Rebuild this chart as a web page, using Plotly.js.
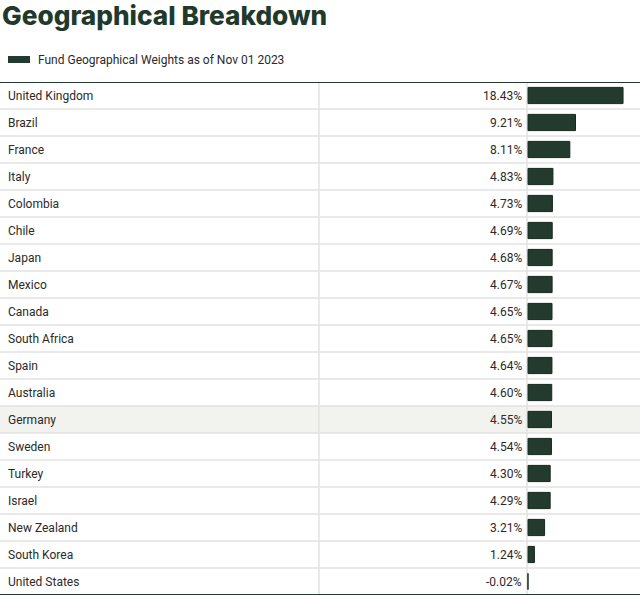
<!DOCTYPE html>
<html>
<head>
<meta charset="utf-8">
<script src="https://cdn.plot.ly/plotly-3.0.1.min.js"></script>
<style>html,body{margin:0;padding:0;background:#fff;}#chart{width:640px;height:599px;}</style>
</head>
<body>
<div id="chart"></div>
<script>
const countries = ["United Kingdom","Brazil","France","Italy","Colombia","Chile","Japan","Mexico","Canada","South Africa","Spain","Australia","Germany","Sweden","Turkey","Israel","New Zealand","South Korea","United States"];
const weights = [18.43,9.21,8.11,4.83,4.73,4.69,4.68,4.67,4.65,4.65,4.64,4.60,4.55,4.54,4.30,4.29,3.21,1.24,-0.02];
const valueLabels = ["18.43%","9.21%","8.11%","4.83%","4.73%","4.69%","4.68%","4.67%","4.65%","4.65%","4.64%","4.60%","4.55%","4.54%","4.30%","4.29%","3.21%","1.24%","-0.02%"];
const seriesName = "Fund Geographical Weights as of Nov 01 2023";
const highlighted = "Germany";

const W = 640, H = 599;
const dark = "#233a2f";
const font = "Roboto, Inter, sans-serif";
const n = countries.length;
const idx = countries.map((c,i)=>i);

const shapes = [];
const hi = countries.indexOf(highlighted);
shapes.push({type:"rect", xref:"paper", yref:"y", x0:0, x1:1, y0:hi-0.5, y1:hi+0.5, fillcolor:"#f2f2ee", line:{width:0}, layer:"below"});
for (let i=0;i<n-1;i++){
  shapes.push({type:"line", xref:"paper", yref:"y", x0:0, x1:1, y0:i+0.5, y1:i+0.5, line:{color:"#e2e2e2", width:1.5}, layer:"below"});
}
[319/W, 527/W].forEach(x=>{
  shapes.push({type:"line", xref:"paper", yref:"y", x0:x, x1:x, y0:-0.5, y1:n-0.5, line:{color:"#e2e2e2", width:1.5}, layer:"below"});
});
shapes.push({type:"line", xref:"paper", yref:"y", x0:0, x1:1, y0:-0.5, y1:-0.5, line:{color:dark, width:2}});
shapes.push({type:"line", xref:"paper", yref:"y", x0:0, x1:1, y0:n-0.5, y1:n-0.5, line:{color:dark, width:2}});
shapes.push({type:"rect", xref:"paper", yref:"paper", x0:8/W, x1:30/W, y0:1+(82-56)/513, y1:1+(82-63)/513, fillcolor:dark, line:{width:0}});

const txt = {family:font, size:12, color:"#2a2a2a"};
const annotations = [];
countries.forEach((c,i)=>{
  annotations.push({xref:"paper", yref:"y", x:6/W, y:i, text:c, showarrow:false, xanchor:"left", yanchor:"middle", font:txt});
  annotations.push({xref:"paper", yref:"y", x:524/W, y:i, text:valueLabels[i], showarrow:false, xanchor:"right", yanchor:"middle", font:txt});
});
annotations.push({xref:"paper", yref:"paper", x:36/W, y:1+(82-60)/513, text:seriesName, showarrow:false, xanchor:"left", yanchor:"middle", font:txt});

const data = [{
  type:"bar", orientation:"h", x:weights, y:idx, name:seriesName,
  marker:{color:dark, line:{color:"#17291f", width:1}},
  width:0.6, hoverinfo:"skip", showlegend:false
}];

const layout = {
  width:W, height:H,
  margin:{l:0, r:0, t:82, b:4, pad:0},
  paper_bgcolor:"#fff", plot_bgcolor:"rgba(0,0,0,0)",
  title:{text:"Geographical Breakdown", x:2/W, xanchor:"left", xref:"paper", yref:"container", y:1-16/H, yanchor:"middle", font:{family:"Inter, sans-serif", size:26.2, weight:800, color:"#1f3a2d"}},
  xaxis:{domain:[527/W,1], range:[-0.2,21.72], visible:false, fixedrange:true},
  yaxis:{range:[n-0.5,-0.5], visible:false, fixedrange:true},
  shapes:shapes, annotations:annotations, showlegend:false
};
Plotly.newPlot("chart", data, layout, {displayModeBar:false, staticPlot:true});
</script>
</body>
</html>
